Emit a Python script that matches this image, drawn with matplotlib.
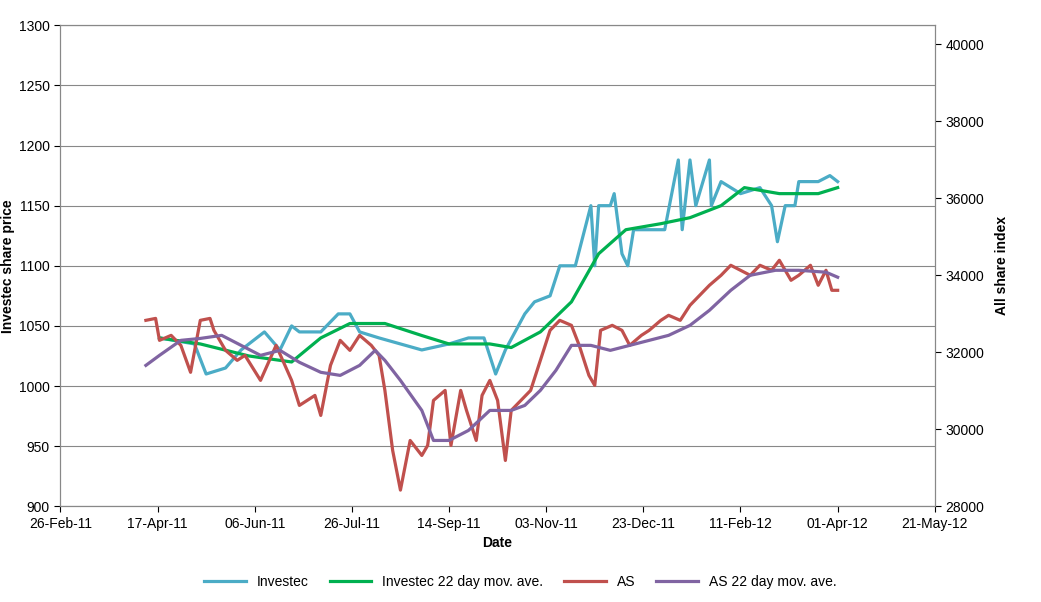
import numpy as np
import pandas as pd
import matplotlib
matplotlib.use("Agg")
import matplotlib.pyplot as plt
import matplotlib.dates as mdates

plt.rcParams["font.family"] = ["Liberation Sans", "DejaVu Sans"]

START = pd.Timestamp("2011-02-26")

# days since 26-Feb-11
inv_day = [51, 69, 75, 85, 93, 101, 105, 113, 119, 123, 134, 143, 149, 154, 164, 175, 186, 200,
           210, 218, 224, 229, 234, 239, 244, 252, 257, 265, 273, 275, 277, 283, 285, 289, 292,
           295, 303, 311, 318, 320, 324, 327, 334, 335, 340, 350, 360, 366, 369, 373, 378, 380,
           390, 396, 400]
inv_val = [1040, 1035, 1010, 1015, 1030, 1040, 1045, 1030, 1050, 1045, 1045, 1060, 1060, 1045,
           1040, 1035, 1030, 1035, 1040, 1040, 1010, 1030, 1045, 1060, 1070, 1075, 1100, 1100,
           1150, 1100, 1150, 1150, 1160, 1110, 1100, 1130, 1130, 1130, 1188, 1130, 1188, 1150,
           1188, 1150, 1170, 1160, 1165, 1150, 1120, 1150, 1150, 1170, 1170, 1175, 1170]

inv_ma_day = [51, 72, 97, 119, 134, 149, 167, 186, 200, 221, 232, 247, 263, 277, 291, 309, 324,
              340, 352, 370, 390, 400]
inv_ma_val = [1040, 1035, 1025, 1020, 1040, 1052, 1052, 1042, 1035, 1035, 1032, 1045, 1070, 1110,
              1130, 1135, 1140, 1150, 1165, 1160, 1160, 1165]

as_day = [44, 49, 51, 57, 62, 67, 72, 77, 79, 85, 91, 95, 103, 111, 119, 123, 131, 134, 139, 144,
          149, 154, 160, 164, 167, 171, 175, 180, 186, 189, 192, 198, 201, 206, 209, 214, 217, 221,
          225, 229, 232, 237, 242, 247, 252, 257, 263, 267, 272, 275, 278, 284, 289, 293, 299, 303,
          309, 313, 319, 324, 329, 334, 340, 345, 350, 355, 360, 366, 370, 376, 380, 386, 390, 394,
          397, 400]
as_val = [32830, 32880, 32310, 32440, 32180, 31480, 32830, 32880, 32570, 32050, 31790, 31920,
          31270, 32180, 31270, 30620, 30880, 30360, 31660, 32310, 32050, 32440, 32180, 31920,
          31010, 29450, 28420, 29710, 29320, 29580, 30750, 31010, 29580, 31010, 30490, 29710,
          30880, 31270, 30750, 29190, 30490, 30750, 31010, 31790, 32570, 32830, 32700, 32180,
          31400, 31140, 32570, 32700, 32570, 32180, 32440, 32570, 32830, 32960, 32830, 33220,
          33480, 33740, 34000, 34260, 34130, 34000, 34260, 34130, 34390, 33870, 34000, 34260,
          33740, 34130, 33610, 33610]

as_ma_day = [44, 51, 62, 72, 83, 93, 103, 113, 123, 134, 144, 154, 162, 167, 175, 186, 192, 200,
             210, 221, 232, 239, 247, 255, 263, 273, 283, 293, 303, 313, 324, 334, 345, 355, 368,
             380, 394, 400]
as_ma_val = [31660, 31920, 32310, 32360, 32440, 32180, 31920, 32050, 31740, 31480, 31400, 31660,
             32050, 31790, 31270, 30490, 29710, 29710, 29970, 30490, 30490, 30620, 31010, 31530,
             32180, 32180, 32050, 32180, 32310, 32440, 32700, 33090, 33610, 34000, 34130, 34130,
             34080, 33950]


def to_dates(days):
    return [START + pd.Timedelta(days=d) for d in days]


fig = plt.figure(figsize=(10.41, 6.02), dpi=100)
ax = fig.add_axes([0.058, 0.159, 0.84, 0.799])
ax2 = ax.twinx()

l1, = ax.plot(to_dates(inv_day), inv_val, color="#4bacc6", lw=2.3, label="Investec")
l2, = ax.plot(to_dates(inv_ma_day), inv_ma_val, color="#00b050", lw=2.3,
              label="Investec 22 day mov. ave.")
l3, = ax2.plot(to_dates(as_day), as_val, color="#c0504d", lw=2.3, label="AS")
l4, = ax2.plot(to_dates(as_ma_day), as_ma_val, color="#8064a2", lw=2.3,
               label="AS 22 day mov. ave.")

ticks = [START + pd.Timedelta(days=50 * i) for i in range(10)]
ax.set_xlim(ticks[0], ticks[-1])
ax.set_xticks(ticks)
ax.xaxis.set_major_formatter(mdates.DateFormatter("%d-%b-%y"))
ax.set_ylim(900, 1300)
ax.set_yticks(range(900, 1301, 50))
ax2.set_ylim(28000, 40494)
ax2.set_yticks(range(28000, 40001, 2000))
ax.yaxis.grid(True, color="#888888", lw=0.8)
ax.set_axisbelow(True)

for a in (ax, ax2):
    a.tick_params(labelsize=10, length=4)
    for s in a.spines.values():
        s.set_color("#888888")

ax.set_xlabel("Date", fontsize=10, fontweight="bold")
ax.set_ylabel("Investec share price", fontsize=10, fontweight="bold", labelpad=3)
ax2.set_ylabel("All share index", fontsize=10, fontweight="bold", labelpad=8)

fig.legend(handles=[l1, l2, l3, l4], loc="center", bbox_to_anchor=(0.5, 0.033),
           ncol=4, frameon=False, fontsize=10, handlelength=3, columnspacing=1.5)

fig.savefig("out.png", dpi=100)
